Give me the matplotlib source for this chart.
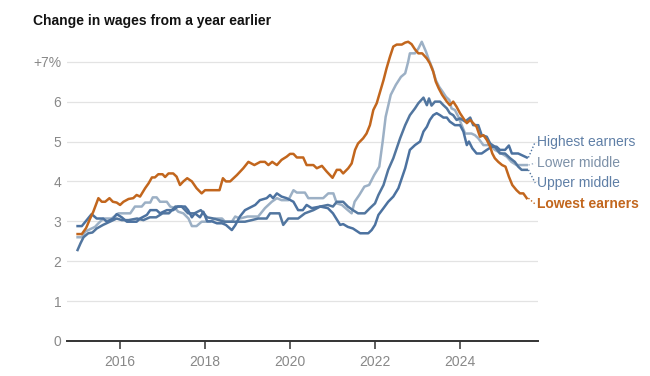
import matplotlib
matplotlib.use("Agg")
import matplotlib.pyplot as plt

# Wage growth by earner group, % change from a year earlier
lowest_dates = [2015.00, 2015.10, 2015.20, 2015.30, 2015.37, 2015.49, 2015.57, 2015.65, 2015.75, 2015.83,
                2015.92, 2016.00, 2016.08, 2016.20, 2016.31, 2016.39, 2016.47, 2016.59, 2016.67, 2016.75,
                2016.82, 2016.90, 2017.00, 2017.06, 2017.14, 2017.25, 2017.33, 2017.41, 2017.49, 2017.58,
                2017.69, 2017.80, 2017.92, 2018.00, 2018.34, 2018.42, 2018.49, 2018.59, 2018.75, 2018.90,
                2019.02, 2019.16, 2019.30, 2019.41, 2019.49, 2019.58, 2019.69, 2019.80, 2019.92, 2020.00,
                2020.08, 2020.16, 2020.31, 2020.39, 2020.55, 2020.63, 2020.75, 2020.86, 2021.00, 2021.10,
                2021.18, 2021.25, 2021.37, 2021.45, 2021.53, 2021.60, 2021.72, 2021.80, 2021.88, 2021.96,
                2022.04, 2022.12, 2022.20, 2022.27, 2022.35, 2022.43, 2022.51, 2022.63, 2022.71, 2022.78,
                2022.86, 2022.94, 2023.02, 2023.11, 2023.22, 2023.29, 2023.37, 2023.43, 2023.50, 2023.58,
                2023.69, 2023.76, 2023.84, 2023.92, 2024.00, 2024.08, 2024.16, 2024.24, 2024.31, 2024.39,
                2024.47, 2024.55, 2024.63, 2024.71, 2024.76, 2024.82, 2024.90, 2024.99, 2025.07, 2025.15,
                2025.23, 2025.33, 2025.41, 2025.49, 2025.57]
lowest_vals = [2.68, 2.68, 2.83, 3.08, 3.24, 3.58, 3.49, 3.49, 3.58, 3.49,
               3.47, 3.41, 3.49, 3.56, 3.58, 3.66, 3.62, 3.83, 3.95, 4.10,
               4.10, 4.18, 4.18, 4.11, 4.20, 4.20, 4.12, 3.91, 4.00, 4.08,
               4.00, 3.83, 3.70, 3.78, 3.78, 4.08, 4.00, 4.00, 4.16, 4.33,
               4.49, 4.41, 4.49, 4.49, 4.41, 4.49, 4.41, 4.54, 4.62, 4.69,
               4.69, 4.60, 4.60, 4.41, 4.41, 4.33, 4.39, 4.25, 4.09, 4.29,
               4.29, 4.20, 4.33, 4.45, 4.79, 4.95, 5.08, 5.20, 5.41, 5.79,
               5.96, 6.25, 6.54, 6.83, 7.12, 7.38, 7.43, 7.43, 7.48, 7.50,
               7.44, 7.31, 7.21, 7.21, 7.08, 6.96, 6.75, 6.50, 6.33, 6.17,
               6.00, 5.91, 6.00, 5.87, 5.71, 5.58, 5.46, 5.54, 5.46, 5.37,
               5.12, 5.16, 5.04, 4.87, 4.70, 4.58, 4.49, 4.41, 4.37, 4.12,
               3.91, 3.78, 3.70, 3.70, 3.58]

lower_mid_dates = [2015.00, 2015.10, 2015.18, 2015.29, 2015.41, 2015.49, 2015.61, 2015.80, 2015.96, 2016.24,
                   2016.35, 2016.51, 2016.59, 2016.71, 2016.77, 2016.86, 2016.94, 2017.10, 2017.18, 2017.29,
                   2017.37, 2017.49, 2017.61, 2017.69, 2017.80, 2017.92, 2018.12, 2018.24, 2018.40, 2018.47,
                   2018.63, 2018.71, 2018.82, 2019.00, 2019.25, 2019.41, 2019.57, 2019.69, 2019.80, 2019.96,
                   2020.08, 2020.16, 2020.35, 2020.43, 2020.63, 2020.78, 2020.90, 2021.02, 2021.10, 2021.22,
                   2021.36, 2021.45, 2021.52, 2021.63, 2021.75, 2021.86, 2021.98, 2022.10, 2022.18, 2022.25,
                   2022.37, 2022.49, 2022.61, 2022.71, 2022.78, 2022.82, 2022.94, 2023.02, 2023.10, 2023.20,
                   2023.27, 2023.35, 2023.43, 2023.51, 2023.59, 2023.67, 2023.75, 2023.80, 2023.88, 2023.96,
                   2024.04, 2024.12, 2024.27, 2024.35, 2024.43, 2024.55, 2024.71, 2024.82, 2024.98, 2025.10,
                   2025.21, 2025.33, 2025.57]
lower_mid_vals = [2.60, 2.60, 2.74, 2.80, 2.86, 2.95, 3.07, 3.07, 3.20, 3.20,
                  3.37, 3.37, 3.47, 3.47, 3.60, 3.60, 3.49, 3.49, 3.37, 3.33,
                  3.24, 3.20, 3.07, 2.88, 2.88, 2.99, 2.99, 3.07, 3.07, 2.99,
                  2.99, 3.12, 3.07, 3.12, 3.12, 3.33, 3.49, 3.58, 3.53, 3.53,
                  3.78, 3.72, 3.72, 3.58, 3.58, 3.58, 3.70, 3.70, 3.45, 3.41,
                  3.28, 3.20, 3.49, 3.66, 3.87, 3.91, 4.16, 4.37, 5.00, 5.62,
                  6.17, 6.42, 6.62, 6.71, 7.00, 7.21, 7.21, 7.33, 7.50, 7.25,
                  7.04, 6.83, 6.54, 6.37, 6.25, 6.12, 6.04, 5.83, 5.79, 5.62,
                  5.41, 5.20, 5.20, 5.16, 5.08, 4.91, 4.91, 4.79, 4.70, 4.62,
                  4.49, 4.41, 4.41]

upper_mid_dates = [2015.00, 2015.07, 2015.14, 2015.25, 2015.35, 2015.45, 2015.60, 2015.76, 2015.92, 2016.04,
                   2016.20, 2016.40, 2016.55, 2016.70, 2016.85, 2017.00, 2017.15, 2017.30, 2017.45, 2017.60,
                   2017.75, 2017.90, 2018.05, 2018.20, 2018.45, 2018.65, 2018.94, 2019.10, 2019.25, 2019.45,
                   2019.53, 2019.75, 2019.84, 2019.96, 2020.19, 2020.35, 2020.55, 2020.71, 2020.89, 2021.01,
                   2021.10, 2021.25, 2021.36, 2021.48, 2021.60, 2021.76, 2021.88, 2022.00, 2022.08, 2022.20,
                   2022.31, 2022.43, 2022.51, 2022.59, 2022.71, 2022.82, 2022.94, 2023.02, 2023.14, 2023.22,
                   2023.27, 2023.33, 2023.41, 2023.53, 2023.61, 2023.69, 2023.76, 2023.84, 2023.92, 2024.00,
                   2024.12, 2024.24, 2024.31, 2024.43, 2024.51, 2024.63, 2024.71, 2024.82, 2024.94, 2025.06,
                   2025.18, 2025.29, 2025.37, 2025.45, 2025.57]
upper_mid_vals = [2.28, 2.45, 2.60, 2.70, 2.72, 2.82, 2.91, 2.99, 3.07, 3.03,
                  3.03, 3.07, 3.03, 3.10, 3.10, 3.20, 3.20, 3.37, 3.37, 3.20,
                  3.20, 3.28, 3.10, 3.07, 2.99, 2.99, 2.99, 3.03, 3.07, 3.07,
                  3.20, 3.20, 2.91, 3.07, 3.07, 3.20, 3.28, 3.37, 3.41, 3.37,
                  3.49, 3.49, 3.37, 3.28, 3.20, 3.20, 3.33, 3.45, 3.66, 3.91,
                  4.29, 4.58, 4.83, 5.08, 5.41, 5.66, 5.83, 5.96, 6.10, 5.91,
                  6.08, 5.90, 6.00, 6.00, 5.91, 5.83, 5.71, 5.66, 5.54, 5.58,
                  5.50, 5.60, 5.41, 5.41, 5.16, 5.12, 4.95, 4.87, 4.70, 4.70,
                  4.58, 4.49, 4.37, 4.29, 4.29]

highest_dates = [2015.00, 2015.10, 2015.33, 2015.45, 2015.60, 2015.69, 2015.84, 2015.92, 2016.04, 2016.16,
                 2016.39, 2016.47, 2016.63, 2016.71, 2016.86, 2016.94, 2017.10, 2017.25, 2017.36, 2017.53,
                 2017.60, 2017.69, 2017.76, 2017.88, 2017.96, 2018.05, 2018.16, 2018.28, 2018.40, 2018.49,
                 2018.63, 2018.71, 2018.82, 2018.94, 2019.18, 2019.29, 2019.45, 2019.53, 2019.60, 2019.69,
                 2019.80, 2019.92, 2020.08, 2020.19, 2020.30, 2020.39, 2020.51, 2020.71, 2020.89, 2021.01,
                 2021.18, 2021.25, 2021.36, 2021.48, 2021.65, 2021.84, 2021.92, 2022.00, 2022.08, 2022.20,
                 2022.31, 2022.43, 2022.55, 2022.63, 2022.71, 2022.82, 2022.94, 2023.06, 2023.14, 2023.22,
                 2023.29, 2023.37, 2023.45, 2023.53, 2023.61, 2023.69, 2023.76, 2023.88, 2024.00, 2024.08,
                 2024.16, 2024.21, 2024.29, 2024.39, 2024.51, 2024.63, 2024.75, 2024.86, 2024.94, 2025.06,
                 2025.15, 2025.22, 2025.37, 2025.45, 2025.57]
highest_vals = [2.88, 2.88, 3.18, 3.07, 3.07, 2.99, 3.07, 3.18, 3.10, 2.99,
                2.99, 3.07, 3.16, 3.28, 3.28, 3.20, 3.28, 3.28, 3.37, 3.37,
                3.28, 3.10, 3.20, 3.10, 3.24, 3.00, 3.00, 2.95, 2.95, 2.91,
                2.78, 2.90, 3.12, 3.28, 3.41, 3.53, 3.58, 3.66, 3.58, 3.70,
                3.62, 3.58, 3.49, 3.28, 3.28, 3.41, 3.33, 3.37, 3.33, 3.20,
                2.91, 2.93, 2.86, 2.82, 2.70, 2.70, 2.78, 2.91, 3.16, 3.33,
                3.49, 3.62, 3.83, 4.08, 4.33, 4.79, 4.91, 5.00, 5.25, 5.37,
                5.54, 5.66, 5.71, 5.66, 5.60, 5.60, 5.50, 5.41, 5.41, 5.25,
                4.91, 5.00, 4.83, 4.70, 4.70, 4.79, 4.87, 4.87, 4.79, 4.79,
                4.90, 4.70, 4.70, 4.66, 4.60]

year_ticks = [2016, 2018, 2020, 2022, 2024]
y_ticks = [0, 1, 2, 3, 4, 5, 6, 7]
y_labels = ["0", "1", "2", "3", "4", "5", "6", "+7%"]

series_names = ["Highest earners", "Lower middle", "Upper middle", "Lowest earners"]
label_y = [4.99, 4.46, 3.96, 3.43]

ORANGE = "#c2661d"
DARK = "#4c72a0"
DARK2 = "#52769f"
LIGHT = "#9cb0c5"
LABEL_BLUE = "#5f7fa6"
LABEL_GRAY = "#7d91a8"

plt.rcParams["font.family"] = ["Liberation Sans", "DejaVu Sans"]

fig = plt.figure(figsize=(6.5, 3.76), dpi=100)
ax = fig.add_axes([0.103, 0.0931, 0.725, 0.8064])

ax.plot(lower_mid_dates, lower_mid_vals, color=LIGHT, lw=1.8, solid_joinstyle="round", zorder=3)
ax.plot(upper_mid_dates, upper_mid_vals, color=DARK2, lw=1.8, solid_joinstyle="round", zorder=4)
ax.plot(highest_dates, highest_vals, color=DARK, lw=1.8, solid_joinstyle="round", zorder=4)
ax.plot(lowest_dates, lowest_vals, color=ORANGE, lw=1.8, solid_joinstyle="round", zorder=5)

ax.set_xlim(2014.75, 2025.84)
ax.set_ylim(0, 7.6)

# grid
for v in y_ticks[1:]:
    ax.axhline(v, color="#e3e3e3", lw=0.9, zorder=1)
ax.axhline(0, color="#333333", lw=1.4, zorder=6, clip_on=False)

for s in ax.spines.values():
    s.set_visible(False)

ax.set_yticks(y_ticks)
ax.set_yticklabels(y_labels)
ax.tick_params(axis="y", length=0, pad=4, labelsize=10, labelcolor="#888888")
ax.set_xticks(year_ticks)
ax.set_xticklabels([str(y) for y in year_ticks])
ax.tick_params(axis="x", length=6, width=1.1, color="#333333", pad=4,
               labelsize=10, labelcolor="#888888", direction="out")

# end labels with dotted leaders
ends = [(highest_dates[-1], highest_vals[-1]),
        (lower_mid_dates[-1], lower_mid_vals[-1]),
        (upper_mid_dates[-1], upper_mid_vals[-1]),
        (lowest_dates[-1], lowest_vals[-1])]
label_colors = [LABEL_BLUE, LABEL_GRAY, LABEL_BLUE, ORANGE]
leader_colors = [DARK, LIGHT, DARK2, ORANGE]
for (ex, ey), ly, name, lc, dc in zip(ends, label_y, series_names, label_colors, leader_colors):
    ax.plot([ex + 0.04, 2025.77], [ey, ly], color=dc, lw=1.0, ls=(0, (1, 1.5)),
            clip_on=False, zorder=2)
    ax.text(2025.82, ly, name, color=lc, fontsize=10,
            fontweight="bold" if name == "Lowest earners" else "normal",
            va="center", ha="left", clip_on=False)

fig.text(0.051, 0.945, "Change in wages from a year earlier", fontsize=10,
         fontweight="bold", color="#121212", va="center", ha="left")

fig.savefig("out.png", dpi=100)
